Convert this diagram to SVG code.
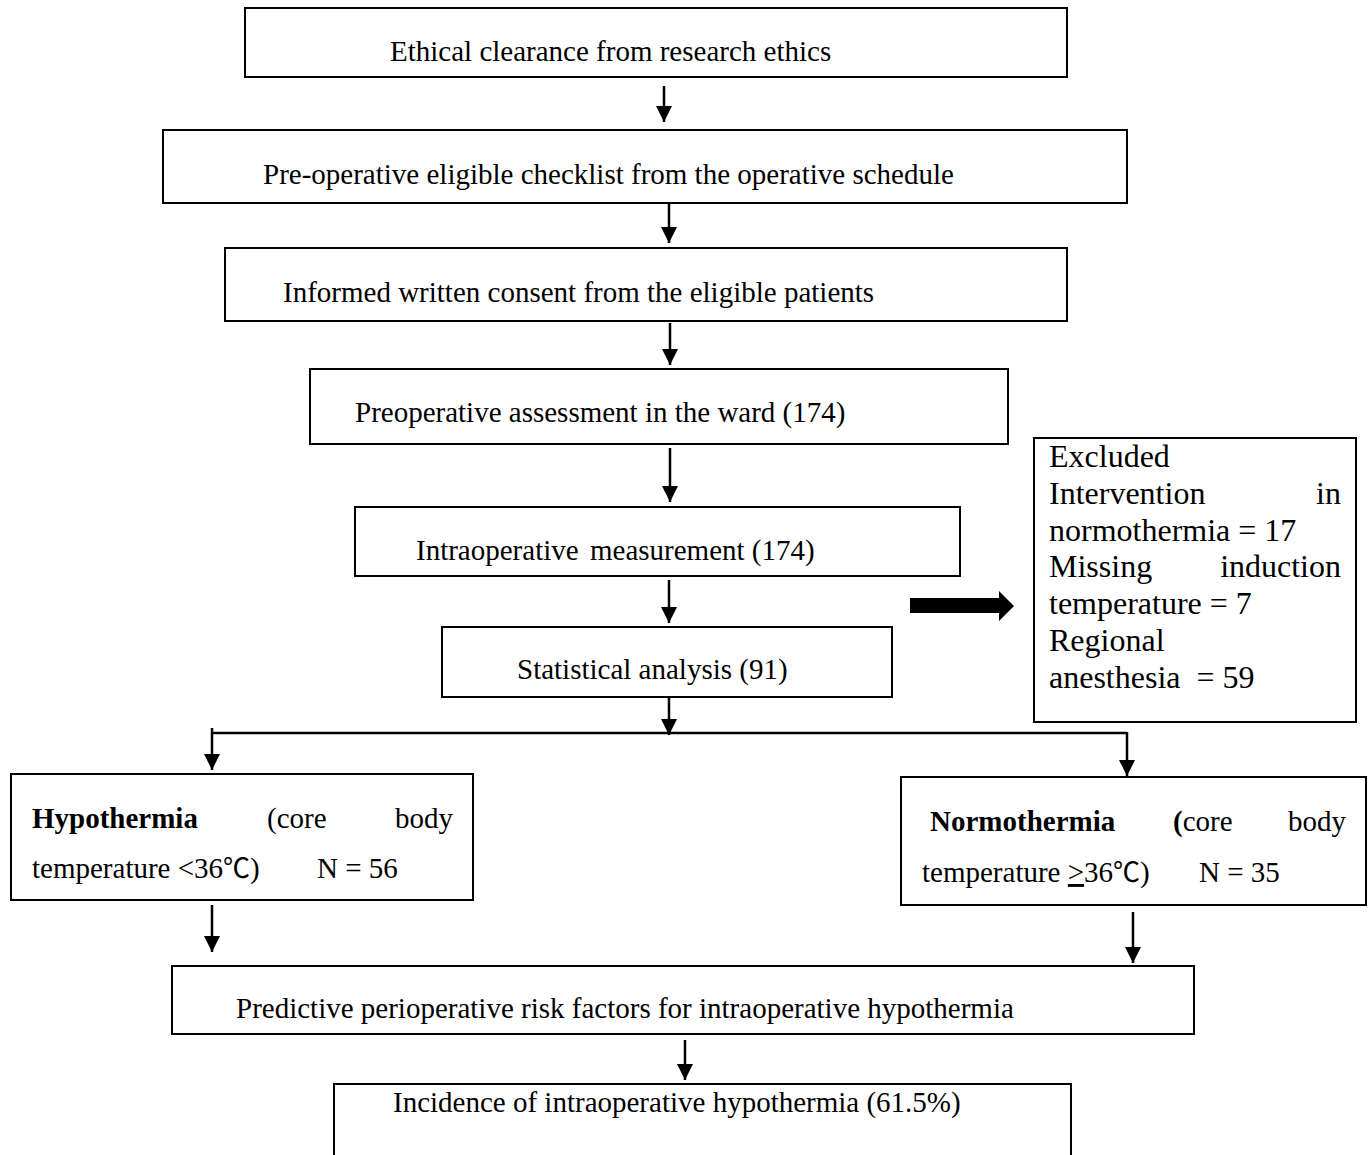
<svg xmlns="http://www.w3.org/2000/svg" width="1370" height="1155" viewBox="0 0 1370 1155">
<style>
.box{fill:#fff;stroke:#000;stroke-width:2}
.t{font-family:"Liberation Serif","Times New Roman",serif;font-size:29px;fill:#000}
.ex{font-family:"Liberation Serif","Times New Roman",serif;font-size:32px;fill:#000}
.b{font-weight:bold}
.deg{font-family:"Noto Sans CJK SC","DejaVu Sans",sans-serif;font-size:27px}
.c{fill:none;stroke:#000;stroke-width:2.5}
</style>
<defs>
<marker id="ah" markerUnits="userSpaceOnUse" markerWidth="16" markerHeight="18" viewBox="0 0 16 18" refX="16" refY="8" orient="auto">
<path d="M0,0 L16,8 L0,16 Z" fill="#000"/>
</marker>
</defs>
<rect width="1370" height="1155" fill="#fff"/>
<g id="connectors">
<line class="c" x1="664" y1="86" x2="664" y2="122" marker-end="url(#ah)"/>
<line class="c" x1="669" y1="204" x2="669" y2="243" marker-end="url(#ah)"/>
<line class="c" x1="670" y1="323" x2="670" y2="365" marker-end="url(#ah)"/>
<line class="c" x1="670" y1="448" x2="670" y2="502" marker-end="url(#ah)"/>
<line class="c" x1="669" y1="580" x2="669" y2="623" marker-end="url(#ah)"/>
<line class="c" x1="669" y1="696" x2="669" y2="735" marker-end="url(#ah)"/>
<polyline class="c" points="212,733 1127,733"/>
<line class="c" x1="212" y1="728" x2="212" y2="770" marker-end="url(#ah)"/>
<line class="c" x1="1127" y1="732" x2="1127" y2="776" marker-end="url(#ah)"/>
<line class="c" x1="212" y1="905" x2="212" y2="952" marker-end="url(#ah)"/>
<line class="c" x1="1133" y1="912" x2="1133" y2="963" marker-end="url(#ah)"/>
<line class="c" x1="685" y1="1040" x2="685" y2="1080" marker-end="url(#ah)"/>
<polygon points="910,598 999,598 999,591 1014,606 999,621 999,613 910,613" fill="#000"/>
</g>
<g id="n1"><rect class="box" x="245" y="8" width="822" height="69"/>
<text class="t" x="390" y="61">Ethical clearance from research ethics</text></g>
<g id="n2"><rect class="box" x="163" y="130" width="964" height="73"/>
<text class="t" x="263" y="184">Pre-operative eligible checklist from the operative schedule</text></g>
<g id="n3"><rect class="box" x="225" y="248" width="842" height="73"/>
<text class="t" x="283" y="302">Informed written consent from the eligible patients</text></g>
<g id="n4"><rect class="box" x="310" y="369" width="698" height="75"/>
<text class="t" x="355" y="422">Preoperative assessment in the ward (174)</text></g>
<g id="n5"><rect class="box" x="355" y="507" width="605" height="69"/>
<text class="t" y="560"><tspan x="416">Intraoperative</tspan><tspan x="590">measurement (174)</tspan></text></g>
<g id="n6"><rect class="box" x="442" y="627" width="450" height="70"/>
<text class="t" x="517" y="679">Statistical analysis (91)</text></g>
<g id="excluded"><rect class="box" x="1034" y="438" width="322" height="284"/>
<text class="ex" x="1049" y="467">Excluded</text>
<text class="ex" x="1049" y="504">Intervention</text>
<text class="ex" x="1341" y="504" text-anchor="end">in</text>
<text class="ex" x="1049" y="541">normothermia = 17</text>
<text class="ex" x="1049" y="577">Missing</text>
<text class="ex" x="1341" y="577" text-anchor="end">induction</text>
<text class="ex" x="1049" y="614">temperature = 7</text>
<text class="ex" x="1049" y="651">Regional</text>
<text class="ex" x="1049" y="688" xml:space="preserve">anesthesia  = 59</text></g>
<g id="hypo"><rect class="box" x="11" y="774" width="462" height="126"/>
<text class="t b" x="32" y="828">Hypothermia</text>
<text class="t" x="267" y="828">(core</text>
<text class="t" x="453" y="828" text-anchor="end">body</text>
<text class="t" x="32" y="878">temperature &lt;36<tspan class="deg">℃</tspan>)</text>
<text class="t" x="317" y="878">N = 56</text></g>
<g id="normo"><rect class="box" x="901" y="777" width="465" height="128"/>
<text class="t b" x="930" y="831">Normothermia</text>
<text class="t" x="1173" y="831"><tspan class="b">(</tspan>core</text>
<text class="t" x="1346" y="831" text-anchor="end">body</text>
<text class="t" x="922" y="882">temperature <tspan text-decoration="underline">&gt;</tspan>36<tspan class="deg">℃</tspan>)</text>
<text class="t" x="1199" y="882">N = 35</text></g>
<g id="n7"><rect class="box" x="172" y="966" width="1022" height="68"/>
<text class="t" x="236" y="1018">Predictive perioperative risk factors for intraoperative hypothermia</text></g>
<g id="n8"><rect class="box" x="334" y="1084" width="737" height="90"/>
<text class="t" x="393" y="1112">Incidence of intraoperative hypothermia (61.5%)</text></g>
</svg>
